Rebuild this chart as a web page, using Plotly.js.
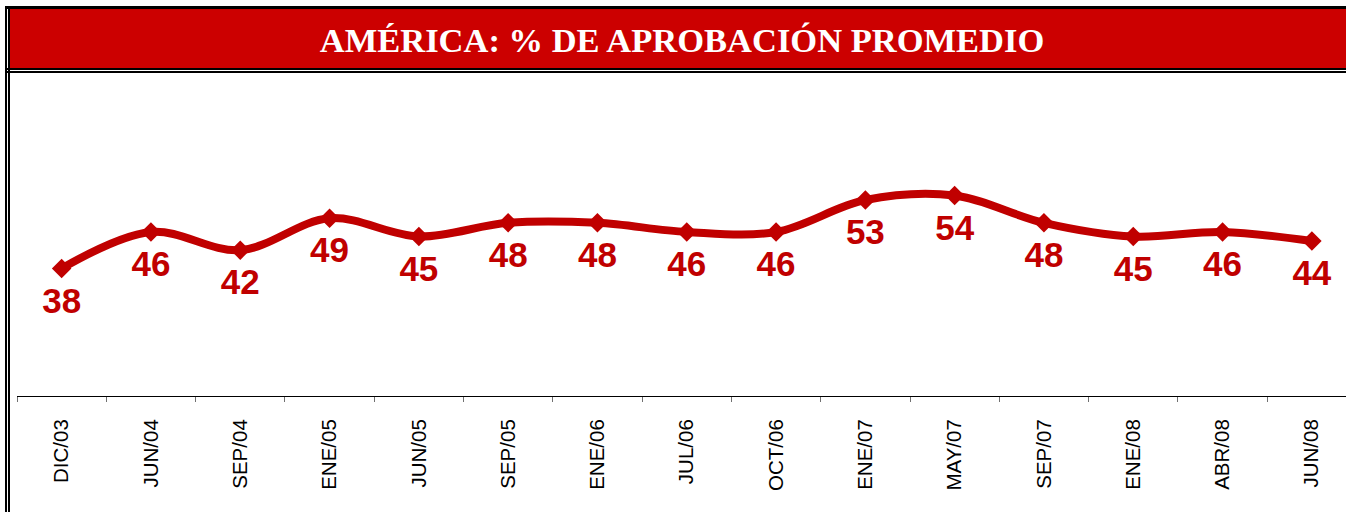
<!DOCTYPE html>
<html>
<head>
<meta charset="utf-8">
<script src="https://cdn.plot.ly/plotly-3.0.1.min.js"></script>
<style>
  html, body { margin: 0; padding: 0; background: #ffffff; }
  #chart { width: 1346px; height: 512px; }
</style>
</head>
<body>
<div id="chart"></div>
<script>
// ---- data ----
const categories = ["DIC/03","JUN/04","SEP/04","ENE/05","JUN/05","SEP/05","ENE/06","JUL/06","OCT/06","ENE/07","MAY/07","SEP/07","ENE/08","ABR/08","JUN/08"];
const approval = [38, 46, 42, 49, 45, 48, 48, 46, 46, 53, 54, 48, 45, 46, 44];
const titleText = "AMÉRICA: % DE APROBACIÓN PROMEDIO";

// ---- layout helpers (pixel -> paper) ----
const W = 1346, H = 512;
const mL = 17, mR = 0, mT = 77, mB = 116;
const plotW = W - mL - mR, plotH = H - mT - mB;
const X = px => (px - mL) / plotW;
const Y = py => (H - mB - py) / plotH;
function rect(x0, y0, x1, y1, color) {
  return {type: 'rect', xref: 'paper', yref: 'paper',
          x0: X(x0), x1: X(x1), y0: Y(y1), y1: Y(y0),
          fillcolor: color, line: {width: 0}, layer: 'below'};
}

const red = '#C00000';

const lineTrace = {
  type: 'scatter',
  mode: 'lines+markers',
  x: categories,
  y: approval,
  line: {color: red, width: 8, shape: 'spline', smoothing: 1},
  marker: {symbol: 'diamond', size: 15, color: red},
  cliponaxis: false,
  hoverinfo: 'skip'
};

// data labels (invisible larger markers give the label offset below the point)
const labelTrace = {
  type: 'scatter',
  mode: 'markers+text',
  x: categories,
  y: approval,
  text: approval.map(String),
  textposition: 'bottom center',
  textfont: {family: 'Liberation Sans, Arial, sans-serif', size: 35, color: red, weight: 'bold'},
  marker: {size: 27, color: 'rgba(0,0,0,0)'},
  cliponaxis: false,
  hoverinfo: 'skip'
};

const layout = {
  width: W, height: H,
  autosize: false,
  margin: {l: mL, r: mR, t: mT, b: mB, pad: 0},
  paper_bgcolor: '#ffffff',
  plot_bgcolor: 'rgba(0,0,0,0)',
  showlegend: false,
  title: {
    text: '<b>' + titleText + '</b>',
    font: {family: 'Liberation Serif, Times New Roman, serif', size: 34.5, color: '#ffffff'},
    x: 682 / W, xref: 'container', xanchor: 'center',
    y: 1 - 40 / H, yref: 'container', yanchor: 'middle'
  },
  xaxis: {
    type: 'category',
    categoryorder: 'array',
    categoryarray: categories,
    range: [-0.5, -0.5 + (W - mL) / 89.3],
    tickson: 'boundaries',
    ticks: 'outside', ticklen: 5, tickcolor: '#707070', tickwidth: 1,
    showline: true, linecolor: '#000000', linewidth: 1,
    showgrid: false, zeroline: false,
    tickangle: -90,
    ticklabelstandoff: 14,
    tickfont: {family: 'Liberation Sans, Arial, sans-serif', size: 20.5, color: '#000000'},
    fixedrange: true
  },
  yaxis: {
    range: [10, 80],
    visible: false,
    showgrid: false, zeroline: false,
    fixedrange: true
  },
  shapes: [
    rect(10, 9, 1350, 68, '#CC0000'),   // title banner fill
    rect(5, 6, 1350, 9, '#000000'),     // top border
    rect(5, 68, 1350, 70, '#000000'),   // banner bottom border
    rect(5, 71, 1350, 73, '#000000'),   // second line
    rect(5, 6, 7, 520, '#000000'),      // left outer border
    rect(8, 6, 10, 520, '#000000')      // left inner border
  ]
};

Plotly.newPlot('chart', [lineTrace, labelTrace], layout, {displayModeBar: false, staticPlot: true});
</script>
</body>
</html>
